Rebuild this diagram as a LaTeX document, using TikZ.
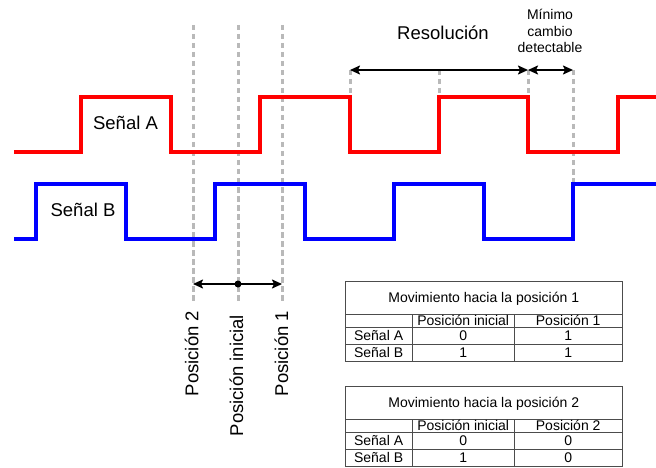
\documentclass[tikz,border=0pt]{standalone}
\usepackage{fontspec}
\setmainfont{Liberation Sans}
\usetikzlibrary{arrows.meta}
\begin{document}
\begin{tikzpicture}[x=1pt,y=-1pt,
  sigA/.style={draw=red, line width=3.2pt},
  sigB/.style={draw=blue, line width=3.2pt},
  guide/.style={draw=gray!55, line width=3pt, dash pattern=on 5.5pt off 3.5pt},
  dimarrow/.style={line width=1.8pt, {Stealth[length=10pt,width=9pt,inset=2pt]}-{Stealth[length=10pt,width=9pt,inset=2pt]}},
  biglbl/.style={font=\fontsize{18.5}{22}\selectfont, inner sep=0pt},
  smalllbl/.style={font=\fontsize{14}{16.8}\selectfont, inner sep=0pt},
  cell/.style={font=\fontsize{14}{16}\selectfont, inner sep=0pt, text height=10pt, text depth=0pt},
  tgrid/.style={draw=black!70, line width=0.8pt}]
\useasboundingbox (0,0) rectangle (656,468);

% guide coordinates
\coordinate (p2t) at (193,25);  \coordinate (p2b) at (193,302);
\coordinate (p0t) at (238,25);  \coordinate (p0b) at (238,302);
\coordinate (p1t) at (282,25);  \coordinate (p1b) at (282,302);
\coordinate (r0) at (350,70); \coordinate (r0b) at (350,97);
\coordinate (rm) at (439,70); \coordinate (rmb) at (439,97);
\coordinate (r1) at (528,70); \coordinate (r1b) at (528,97);
\coordinate (r2) at (573,70); \coordinate (r2b) at (573,184);

% dashed guides
\draw[guide] (p2t) -- (p2b);
\draw[guide] (p0t) -- (p0b);
\draw[guide] (p1t) -- (p1b);
\draw[guide] (r0) -- (r0b);
\draw[guide] (rm) -- (rmb);
\draw[guide] (r1) -- (r1b);
\draw[guide] (r2) -- (r2b);

% signals
\draw[sigA] (14,152) -- (81,152) -- (81,97) -- (171,97) -- (171,152) -- (260,152) -- (260,97) -- (350,97) -- (350,152) -- (439,152) -- (439,97) -- (528,97) -- (528,152) -- (618,152) -- (618,97) -- (656,97);
\draw[sigB] (14,239) -- (36,239) -- (36,184) -- (126,184) -- (126,239) -- (215,239) -- (215,184) -- (305,184) -- (305,239) -- (394,239) -- (394,184) -- (484,184) -- (484,239) -- (573,239) -- (573,184) -- (656,184);

% signal labels
\node[biglbl, anchor=base] (la) at (125.5,130) {Señal A};
\node[biglbl, anchor=base] (lb) at (83,216.5) {Señal B};

% resolution arrows
\draw[dimarrow] (r0) -- (r1);
\draw[dimarrow] (r1) -- (r2);
\node[biglbl, anchor=base] (res) at (443,40) {Resolución};
\node[smalllbl, anchor=base] (minc1) at (550,19.3) {Mínimo};
\node[smalllbl, anchor=base] (minc2) at (550,36.3) {cambio};
\node[smalllbl, anchor=base] (minc3) at (550,53) {detectable};

% position arrow
\coordinate (p2a) at (193,284);
\coordinate (p1a) at (282,284);
\draw[dimarrow] (p2a) -- (p1a);
\node[circle, fill=black, inner sep=0pt, minimum size=7pt] (dot) at (238,284) {};

% rotated labels
\node[biglbl, rotate=90, anchor=west] (lp2) at (191.7,396.5) {Posición 2};
\node[biglbl, rotate=90, anchor=west] (lp0) at (236.5,436.5) {Posición inicial};
\node[biglbl, rotate=90, anchor=west] (lp1) at (281.5,396.5) {Posición 1};

% tables
\foreach \dy/\pos/\va/\vb in {0/1/1/1, 105/2/0/0} {
  \draw[tgrid] (345,281+\dy) rectangle (622.5,361+\dy);
  \draw[tgrid] (345,314.3+\dy) -- (622.5,314.3+\dy);
  \draw[tgrid] (345,327.5+\dy) -- (622.5,327.5+\dy);
  \draw[tgrid] (345,344.3+\dy) -- (622.5,344.3+\dy);
  \draw[tgrid] (412.3,314.3+\dy) -- (412.3,361+\dy);
  \draw[tgrid] (514,314.3+\dy) -- (514,361+\dy);
  \node[cell] (tt\pos) at (483.75,297.7+\dy) {Movimiento hacia la posición \pos};
  \node[cell] (th\pos a) at (463.2,320.9+\dy) {Posición inicial};
  \node[cell] (th\pos b) at (568.2,320.9+\dy) {Posición \pos};
  \node[cell] (ra\pos) at (378.6,335.9+\dy) {Señal A};
  \node[cell] (ra\pos a) at (463.2,335.9+\dy) {0};
  \node[cell] (ra\pos b) at (568.2,335.9+\dy) {\va};
  \node[cell] (rb\pos) at (378.6,352.6+\dy) {Señal B};
  \node[cell] (rb\pos a) at (463.2,352.6+\dy) {1};
  \node[cell] (rb\pos b) at (568.2,352.6+\dy) {\vb};
}
\end{tikzpicture}
\end{document}
